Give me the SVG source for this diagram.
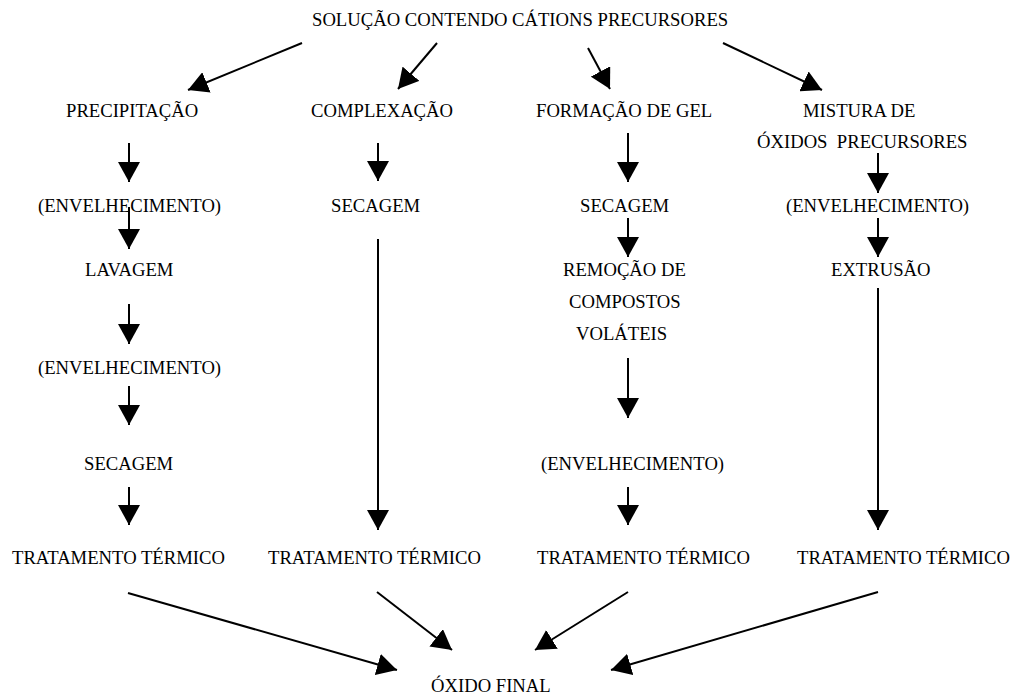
<svg xmlns="http://www.w3.org/2000/svg" width="1015" height="698" viewBox="0 0 1015 698">
<style>
text{font-family:"Liberation Serif","Times New Roman",serif;font-size:18.67px;fill:#000;white-space:pre}
.c line{stroke:#000;stroke-width:2;marker-end:url(#ah)}
</style>
<defs>
<marker id="ah" viewBox="0 0 20 22" refX="20" refY="11" markerWidth="20" markerHeight="22" markerUnits="userSpaceOnUse" orient="auto">
<path d="M0,0 L20,11 L0,22 z" fill="#000"/>
</marker>
</defs>
<rect width="1015" height="698" fill="#fff"/>
<g id="n-solucao"><text x="312" y="26">SOLUÇÃO CONTENDO CÁTIONS PRECURSORES</text></g>
<g id="n-precipitacao"><text x="66" y="117">PRECIPITAÇÃO</text></g>
<g id="n-complexacao"><text x="311" y="117">COMPLEXAÇÃO</text></g>
<g id="n-gel"><text x="536" y="117">FORMAÇÃO DE GEL</text></g>
<g id="n-mistura"><text x="803" y="117">MISTURA DE</text><text x="757" y="148">ÓXIDOS  PRECURSORES</text></g>
<g id="n-env1"><text x="38" y="212">(ENVELHECIMENTO)</text></g>
<g id="n-sec2"><text x="331" y="212">SECAGEM</text></g>
<g id="n-sec3"><text x="580" y="212">SECAGEM</text></g>
<g id="n-env4"><text x="786" y="212">(ENVELHECIMENTO)</text></g>
<g id="n-lavagem"><text x="85" y="276">LAVAGEM</text></g>
<g id="n-remocao"><text x="563" y="276">REMOÇÃO DE</text><text x="569" y="308">COMPOSTOS</text><text x="576" y="340">VOLÁTEIS</text></g>
<g id="n-extrusao"><text x="831" y="276">EXTRUSÃO</text></g>
<g id="n-env2"><text x="38" y="374">(ENVELHECIMENTO)</text></g>
<g id="n-sec1"><text x="84" y="470">SECAGEM</text></g>
<g id="n-env3"><text x="541" y="470">(ENVELHECIMENTO)</text></g>
<g id="n-trat1"><text x="12" y="564">TRATAMENTO TÉRMICO</text></g>
<g id="n-trat2"><text x="268" y="564">TRATAMENTO TÉRMICO</text></g>
<g id="n-trat3"><text x="537" y="564">TRATAMENTO TÉRMICO</text></g>
<g id="n-trat4"><text x="797" y="564">TRATAMENTO TÉRMICO</text></g>
<g id="n-oxido"><text x="431" y="692">ÓXIDO FINAL</text></g>
<g id="connectors" class="c">
<line x1="302" y1="43" x2="188" y2="90"/>
<line x1="437" y1="43" x2="398" y2="89"/>
<line x1="588" y1="48" x2="610" y2="89"/>
<line x1="723" y1="43" x2="822" y2="90"/>
<line x1="129" y1="143" x2="129" y2="182"/>
<line x1="129" y1="207" x2="129" y2="249"/>
<line x1="129" y1="304" x2="129" y2="344"/>
<line x1="129" y1="386" x2="129" y2="425"/>
<line x1="129" y1="487" x2="129" y2="525"/>
<line x1="378" y1="143" x2="378" y2="181"/>
<line x1="378" y1="239" x2="378" y2="530"/>
<line x1="628" y1="133" x2="628" y2="182"/>
<line x1="628" y1="218" x2="628" y2="257"/>
<line x1="628" y1="358" x2="628" y2="418"/>
<line x1="628" y1="487" x2="628" y2="525"/>
<line x1="878" y1="153" x2="878" y2="193"/>
<line x1="878" y1="218" x2="878" y2="257"/>
<line x1="878" y1="288" x2="878" y2="530"/>
<line x1="128" y1="593" x2="397" y2="670"/>
<line x1="377" y1="592" x2="452" y2="650"/>
<line x1="628" y1="592" x2="535" y2="650"/>
<line x1="878" y1="592" x2="611" y2="670"/>
</g>
</svg>
